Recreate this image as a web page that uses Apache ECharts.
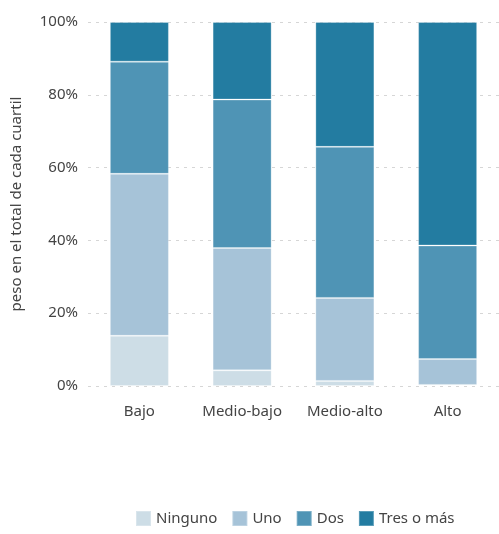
<!DOCTYPE html>
<html><head><meta charset="utf-8">
<script src="https://cdn.jsdelivr.net/npm/echarts@6/dist/echarts.min.js"></script>
<style>html,body{margin:0;padding:0;background:#fff}#c{width:499px;height:534px}</style>
</head><body><div id="c"></div>
<script>
const categories = ['Bajo', 'Medio-bajo', 'Medio-alto', 'Alto'];
const ninguno = [13.8, 4.3, 1.4, 0.3];
const uno = [44.5, 33.6, 22.8, 7.1];
const dos = [30.8, 40.8, 41.5, 31.2];
const tres = [10.9, 21.3, 34.3, 61.4];
const seriesNames = ['Ninguno', 'Uno', 'Dos', 'Tres o más'];
const colors = ['#cddde6', '#a6c3d8', '#4f94b5', '#237ca1'];
const yTicks = [0, 20, 40, 60, 80, 100];

const font = 'Noto Sans';
const chart = echarts.init(document.getElementById('c'));
const data = [ninguno, uno, dos, tres];
chart.setOption({
  animation: false,
  grid: {left: 88, right: 0, top: 22, bottom: 148},
  legend: {
    left: 130, bottom: 2, itemWidth: 15, itemHeight: 15, itemGap: 14,
    icon: 'rect',
    textStyle: {fontFamily: font, fontSize: 15, color: '#444'},
    data: seriesNames
  },
  xAxis: {
    type: 'category', data: categories,
    axisLine: {show: false}, axisTick: {show: false},
    axisLabel: {fontFamily: font, fontSize: 15, color: '#444', margin: 18, interval: 0}
  },
  yAxis: {
    type: 'value', min: 0, max: 100, interval: 20,
    name: 'peso en el total de cada cuartil', nameLocation: 'middle', nameGap: 64,
    nameTextStyle: {fontFamily: font, fontSize: 15, color: '#444'},
    axisLine: {show: false}, axisTick: {show: false},
    axisLabel: {fontFamily: font, fontSize: 15, color: '#444', margin: 10,
      formatter: v => yTicks.includes(v) ? v + '%' : ''},
    splitLine: {lineStyle: {color: '#d6d6d6', type: [3, 5], width: 1}}
  },
  series: data.map((d, i) => ({
    name: seriesNames[i], type: 'bar', stack: 'total', data: d,
    barWidth: 59,
    itemStyle: {color: colors[i], borderColor: 'rgba(255,255,255,0.25)', borderWidth: 1}
  }))
});
</script></body></html>
